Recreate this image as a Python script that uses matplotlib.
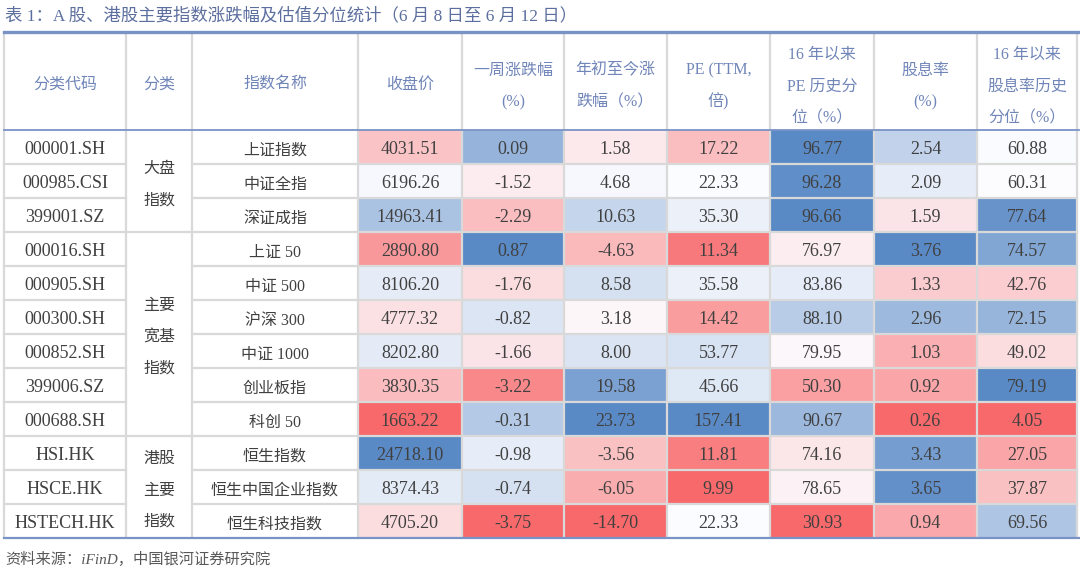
import numpy as np
import matplotlib
matplotlib.use("Agg")
import matplotlib.pyplot as plt
from matplotlib.colors import LinearSegmentedColormap, TwoSlopeNorm
from matplotlib.patches import Rectangle

plt.rcParams['font.family'] = ['Liberation Serif', 'Noto Sans CJK SC', 'DejaVu Sans']

TITLE = "表 1：A 股、港股主要指数涨跌幅及估值分位统计（6 月 8 日至 6 月 12 日）"
SOURCE = "资料来源：iFinD，中国银河证券研究院"

headers = [
    ["分类代码"],
    ["分类"],
    ["指数名称"],
    ["收盘价"],
    ["一周涨跌幅", "(%)"],
    ["年初至今涨", "跌幅（%）"],
    ["PE (TTM,", "倍)"],
    ["16 年以来", "PE 历史分", "位（%）"],
    ["股息率", "(%)"],
    ["16 年以来", "股息率历史", "分位（%）"],
]

codes = ["000001.SH", "000985.CSI", "399001.SZ", "000016.SH", "000905.SH", "000300.SH",
         "000852.SH", "399006.SZ", "000688.SH", "HSI.HK", "HSCE.HK", "HSTECH.HK"]
names = ["上证指数", "中证全指", "深证成指", "上证 50", "中证 500", "沪深 300",
         "中证 1000", "创业板指", "科创 50", "恒生指数", "恒生中国企业指数", "恒生科技指数"]
group_labels = [["大盘", "指数"], ["主要", "宽基", "指数"], ["港股", "主要", "指数"]]
group_sizes = [3, 6, 3]

close = [4031.51, 6196.26, 14963.41, 2890.80, 8106.20, 4777.32, 8202.80, 3830.35,
         1663.22, 24718.10, 8374.43, 4705.20]
week_chg = [0.09, -1.52, -2.29, 0.87, -1.76, -0.82, -1.66, -3.22, -0.31, -0.98, -0.74, -3.75]
ytd_chg = [1.58, 4.68, 10.63, -4.63, 8.58, 3.18, 8.00, 19.58, 23.73, -3.56, -6.05, -14.70]
pe_ttm = [17.22, 22.33, 35.30, 11.34, 35.58, 14.42, 53.77, 45.66, 157.41, 11.81, 9.99, 22.33]
pe_pct = [96.77, 96.28, 96.66, 76.97, 83.86, 88.10, 79.95, 50.30, 90.67, 74.16, 78.65, 30.93]
div_yield = [2.54, 2.09, 1.59, 3.76, 1.33, 2.96, 1.03, 0.92, 0.26, 3.43, 3.65, 0.94]
div_pct = [60.88, 60.31, 77.64, 74.57, 42.76, 72.15, 49.02, 79.19, 4.05, 27.05, 37.87, 69.56]

value_cols = [close, week_chg, ytd_chg, pe_ttm, pe_pct, div_yield, div_pct]

# layout (pixels)
col_edges = [4, 126, 192, 358, 462, 564, 667, 770, 874, 977, 1077]
top_y = 32
head_bottom = 130
row_h = 34.0
n_rows = len(codes)
row_edges = [head_bottom + i * row_h for i in range(n_rows + 1)]
bottom_y = row_edges[-1]

# excel style 3-colour scale: min red, median white, max blue
cmap = LinearSegmentedColormap.from_list("xl", ["#F8696B", "#FCFCFF", "#5A8AC6"])

GRID = "#D9D9D9"
BLUE_LINE = "#7A93C6"
HEAD_TXT = "#7085B8"
BODY_TXT = "#404040"
BASE = 6.5  # baseline sits this far below the visual centre of a line


def put(x, yc, s, size, color, ha='center', **kw):
    ax.text(x, yc + BASE, s, fontsize=size, color=color, ha=ha, va='baseline', **kw)


fig = plt.figure(figsize=(10.8, 5.7), dpi=100)
ax = fig.add_axes([0, 0, 1, 1])
ax.set_xlim(0, 1080)
ax.set_ylim(570, 0)
ax.axis('off')

put(5, 14, TITLE, 12.5, "#5C6E9E", ha='left')

# coloured value cells
for j, vals in enumerate(value_cols):
    arr = np.array(vals)
    norm = TwoSlopeNorm(vmin=arr.min(), vcenter=np.median(arr), vmax=arr.max())
    c = 3 + j
    x0, x1 = col_edges[c], col_edges[c + 1]
    for i, v in enumerate(vals):
        y0 = row_edges[i]
        ax.add_patch(Rectangle((x0, y0), x1 - x0, row_h, facecolor=cmap(norm(v)),
                               edgecolor='none', zorder=1))
        put((x0 + x1) / 2, y0 + row_h / 2 + 1, f"{v:.2f}", 13, BODY_TXT, zorder=4)

# header text
line_gap = 31.5
for c, lines in enumerate(headers):
    xc = (col_edges[c] + col_edges[c + 1]) / 2
    n = len(lines)
    yc = 82 if n == 1 else 84
    for k, s in enumerate(lines):
        put(xc, yc + (k - (n - 1) / 2) * line_gap, s, 11.5, HEAD_TXT)

# code / name columns
for i in range(n_rows):
    yc = row_edges[i] + row_h / 2 + 1
    put((col_edges[0] + col_edges[1]) / 2, yc, codes[i], 13, BODY_TXT)
    put((col_edges[2] + col_edges[3]) / 2, yc, names[i], 11.5, BODY_TXT)

# merged group cells
start = 0
group_bounds = [0]
for lab, size in zip(group_labels, group_sizes):
    yc = (row_edges[start] + row_edges[start + size]) / 2 + 1
    n = len(lab)
    for k, s in enumerate(lab):
        put((col_edges[1] + col_edges[2]) / 2, yc + (k - (n - 1) / 2) * 31.5, s,
            11.5, BODY_TXT)
    start += size
    group_bounds.append(start)

# grid lines
lw = 1.6
for x in col_edges:
    ax.plot([x, x], [top_y, bottom_y], color=GRID, lw=lw, zorder=2, solid_capstyle='butt')
for i in range(1, n_rows):
    y = row_edges[i]
    ax.plot([col_edges[0], col_edges[1]], [y, y], color=GRID, lw=lw, zorder=2)
    ax.plot([col_edges[2], col_edges[-1]], [y, y], color=GRID, lw=lw, zorder=2)
    if i in group_bounds:
        ax.plot([col_edges[1], col_edges[2]], [y, y], color=GRID, lw=lw, zorder=2)

ax.plot([col_edges[0], col_edges[-1] + 2], [top_y, top_y], color=BLUE_LINE, lw=2.4, zorder=3)
ax.plot([col_edges[0], col_edges[-1] + 2], [head_bottom, head_bottom], color=BLUE_LINE, lw=1.3, zorder=3)
ax.plot([col_edges[0], col_edges[-1] + 2], [bottom_y, bottom_y], color=BLUE_LINE, lw=1.6, zorder=3)

put(5, 557, SOURCE, 11, "#595959", ha='left', style='italic')

fig.savefig("out.png", dpi=100)
